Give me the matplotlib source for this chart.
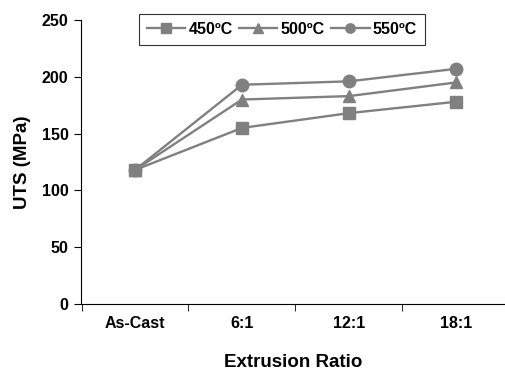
import numpy as np
import matplotlib.pyplot as plt

categories = ['As-Cast', '6:1', '12:1', '18:1']
uts_450 = [118, 155, 168, 178]
uts_500 = [118, 180, 183, 195]
uts_550 = [118, 193, 196, 207]
series_labels = ['450ºC', '500ºC', '550ºC']

plt.rcParams['font.family'] = ['Liberation Sans', 'DejaVu Sans']
plt.rcParams['font.weight'] = 'bold'

fig = plt.figure(figsize=(5.05, 3.71), dpi=100)
ax = fig.add_axes([81 / 505, 1 - 304 / 371, 424 / 505, 284 / 371])

x = np.arange(len(categories))
grey = '#808080'
for vals, mk, lab in zip([uts_450, uts_500, uts_550], ['s', '^', 'o'], series_labels):
    ax.plot(x, vals, color=grey, marker=mk, markersize=9, linewidth=1.7, label=lab,
            clip_on=False)

ax.set_xlim(-0.505, 3.46)
ax.set_ylim(0, 250)
ax.set_yticks([0, 50, 100, 150, 200, 250])
ax.set_xticks(x)
ax.set_xticklabels(categories)
ax.set_xticks(np.arange(-0.5, 3.5, 1.0), minor=True)
ax.tick_params(axis='x', which='major', length=0, pad=9, labelsize=11.5)
ax.tick_params(axis='x', which='minor', length=5, direction='out')
ax.tick_params(axis='y', length=5, direction='out', labelsize=11.5, pad=4)

for s in ['top', 'right']:
    ax.spines[s].set_visible(False)
for s in ['left', 'bottom']:
    ax.spines[s].set_linewidth(0.8)

ax.set_xlabel('Extrusion Ratio', fontsize=13.5, fontweight='bold', labelpad=16)
ax.set_ylabel('UTS (MPa)', fontsize=13.5, fontweight='bold', labelpad=8)

leg = ax.legend(loc='upper left', ncol=3, frameon=True, fancybox=False,
                handlelength=2.4, handletextpad=0.2, columnspacing=0.4,
                borderpad=0.5, borderaxespad=0, markerscale=0.75, fontsize=11.5)
leg.set_bbox_to_anchor((139 / 505, 1 - 14 / 371), transform=fig.transFigure)
leg.get_frame().set_edgecolor('black')
leg.get_frame().set_linewidth(0.8)

fig.savefig('out.png', dpi=100)
